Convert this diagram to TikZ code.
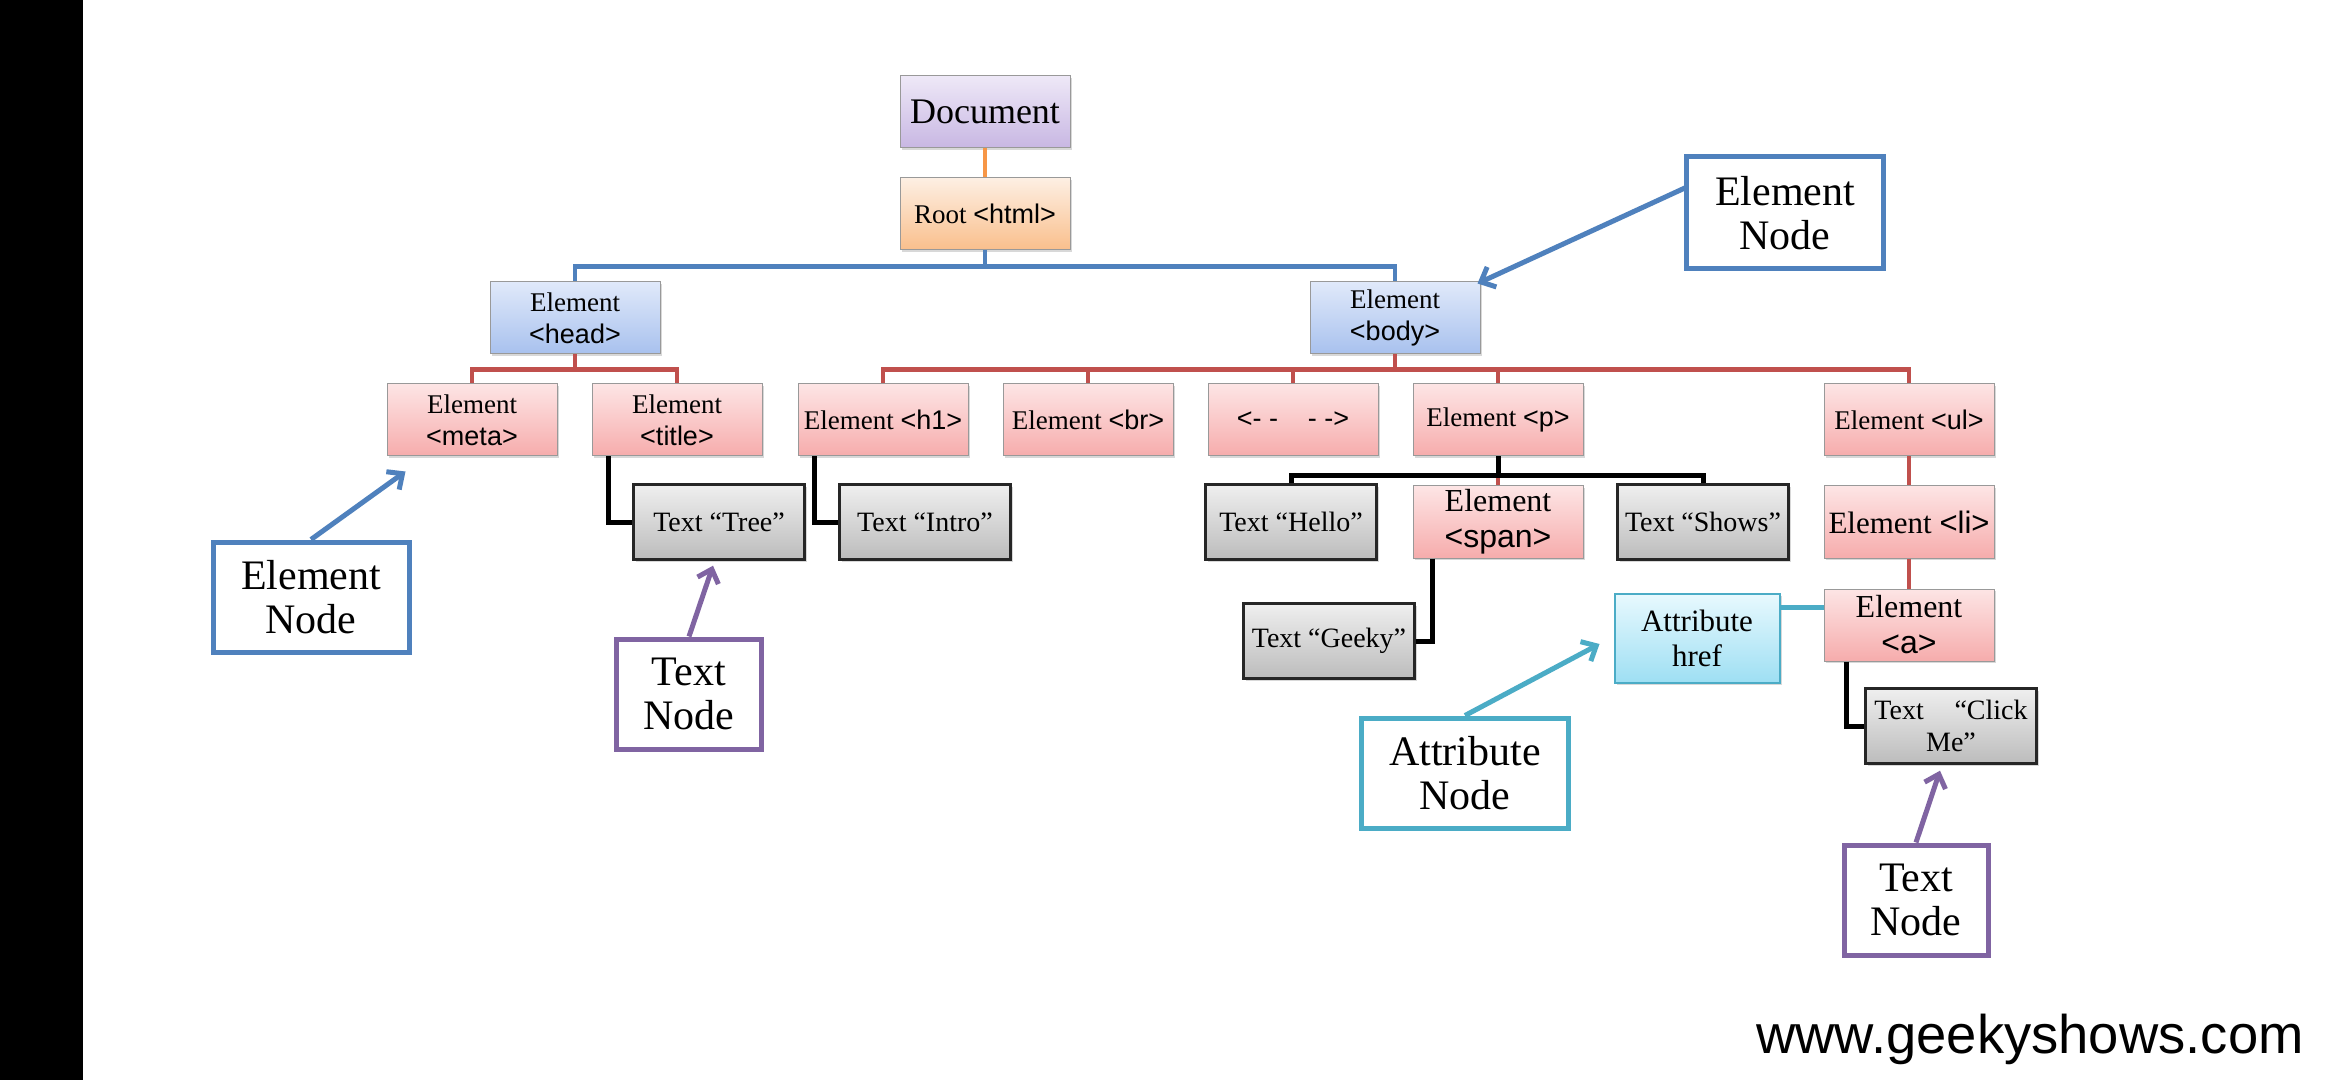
\documentclass[tikz,border=0pt]{standalone}
\usepackage{fontspec}
\setmainfont{Liberation Serif}
\newfontfamily\tagfont{Liberation Sans}
\usetikzlibrary{arrows.meta,shadows,calc}
\newcommand{\tagtxt}[1]{{\tagfont #1}}
\definecolor{docTop}{HTML}{EEE8F7}
\definecolor{docBot}{HTML}{C8B7E3}
\definecolor{rootTop}{HTML}{FDEFE3}
\definecolor{rootBot}{HTML}{F9BF8C}
\definecolor{bluTop}{HTML}{E0E9FA}
\definecolor{bluBot}{HTML}{A8C1EE}
\definecolor{redTop}{HTML}{FDE5E5}
\definecolor{redBot}{HTML}{F6ACAC}
\definecolor{gryTop}{HTML}{EFEFEF}
\definecolor{gryBot}{HTML}{BCBCBC}
\definecolor{cyTop}{HTML}{E8F9FE}
\definecolor{cyBot}{HTML}{9EDFF3}
\definecolor{lnOrange}{HTML}{F79646}
\definecolor{lnBlue}{HTML}{4F81BD}
\definecolor{lnRed}{HTML}{C0504D}
\definecolor{lnCyan}{HTML}{4BACC6}
\definecolor{lnPurple}{HTML}{8064A2}
\begin{document}
\begin{tikzpicture}[x=0.5pt,y=-0.5pt,
  nbox/.style={draw=black!40, line width=0.5pt, minimum width=85pt, minimum height=36pt,
    align=center, inner sep=1pt, font=\fontsize{13.5}{16}\selectfont,
    drop shadow={shadow xshift=1.2pt, shadow yshift=-1.2pt, opacity=0.3}},
  docbox/.style={nbox, top color=docTop, bottom color=docBot, font=\fontsize{18}{20}\selectfont},
  rootbox/.style={nbox, top color=rootTop, bottom color=rootBot},
  blubox/.style={nbox, top color=bluTop, bottom color=bluBot},
  redbox/.style={nbox, top color=redTop, bottom color=redBot},
  txtbox/.style={nbox, draw=black!85, line width=1.2pt, minimum width=85.5pt, minimum height=37.5pt,
    top color=gryTop, bottom color=gryBot, font=\fontsize{14}{16}\selectfont},
  attrbox/.style={nbox, draw=lnCyan, line width=1pt, minimum width=82.5pt, minimum height=44.5pt,
    top color=cyTop, bottom color=cyBot, font=\fontsize{15.5}{17.5}\selectfont},
  callout/.style={draw, line width=2.5pt, fill=white, minimum height=55pt, align=center,
    inner sep=1pt, font=\fontsize{21}{22}\selectfont},
  conn/.style={line width=2.2pt},
  arr/.style={line width=2.5pt, -{Straight Barb[length=6pt,width=11pt]}},
]
\useasboundingbox (0,0) rectangle (2340,1080);
\fill[white] (0,0) rectangle (2340,1080);
\fill[black] (0,0) rectangle (83,1080);

% tree nodes
\node[docbox]  (doc)   at (985,112) {Document};
\node[rootbox] (root)  at (985,214) {Root \tagtxt{<html>}};
\node[blubox]  (head)  at (575,318) {Element\\\tagtxt{<head>}};
\node[blubox]  (body)  at (1395,318) {Element\\\tagtxt{<body>}};
\node[redbox]  (meta)  at (472,420) {Element\\\tagtxt{<meta>}};
\node[redbox]  (title) at (677,420) {Element\\\tagtxt{<title>}};
\node[redbox]  (h1)    at (883,420) {Element \tagtxt{<h1>}};
\node[redbox]  (br)    at (1088,420) {Element \tagtxt{<br>}};
\node[redbox]  (cmt)   at (1293,420) {\tagtxt{<- -\hspace{1.1em}- ->}};
\node[redbox]  (p)     at (1498,420) {Element \tagtxt{<p>}};
\node[redbox]  (ul)    at (1909,420) {Element \tagtxt{<ul>}};
\node[txtbox]  (tree)  at (719,522) {Text “Tree”};
\node[txtbox]  (intro) at (925,522) {Text “Intro”};
\node[txtbox]  (hello) at (1291,522) {Text “Hello”};
\node[redbox, font=\fontsize{16}{18}\selectfont] (span) at (1498,522) {Element\\\tagtxt{<span>}};
\node[txtbox]  (shows) at (1703,522) {Text “Shows”};
\node[redbox, font=\fontsize{15.5}{18}\selectfont] (li) at (1909,522) {Element \tagtxt{<li>}};
\node[redbox, font=\fontsize{16}{18}\selectfont] (a) at (1909,625) {Element\\\tagtxt{<a>}};
\node[attrbox] (href)  at (1697,638) {Attribute\\href};
\node[txtbox]  (geeky) at (1329,641) {Text “Geeky”};
\node[txtbox]  (click) at (1951,726) {Text\hspace{1.1em}“Click\\Me”};

% connectors
\draw[conn, lnOrange] (doc) -- (root);
\draw[conn, lnBlue] (root.south) -- ++(0,16) -| (head.north);
\draw[conn, lnBlue] (root.south) -- ++(0,16) -| (body.north);
\draw[conn, lnRed] (head.south) -- ++(0,15) -| (meta.north);
\draw[conn, lnRed] (head.south) -- ++(0,15) -| (title.north);
\foreach \c in {h1,br,cmt,p,ul}
  \draw[conn, lnRed] (body.south) -- ++(0,15) -| (\c.north);
\draw[conn, lnRed] (p) -- (span);
\draw[conn, lnRed] (ul) -- (li);
\draw[conn, lnRed] (li) -- (a);
\draw[conn, line width=2.5pt, black] (p.south) -- ++(0,19) -| (hello.north);
\draw[conn, line width=2.5pt, black] (p.south) -- ++(0,19) -| (shows.north);
\draw[conn, line width=2.5pt, black] ($(title.south west)+(17,0)$) |- (tree.west);
\draw[conn, line width=2.5pt, black] ($(h1.south west)+(17,0)$) |- (intro.west);
\draw[conn, line width=2.5pt, black] ($(span.south west)+(20,0)$) |- (geeky.east);
\draw[conn, line width=2.5pt, black] ($(a.south west)+(23,0)$) |- (click.west);
\coordinate (hx) at ($(href.north east)+(0,15)$);
\draw[conn, lnCyan] (hx) -- (hx -| a.west);

% callouts
\node[callout, draw=lnBlue, minimum width=98.5pt, minimum height=56pt] (enr) at (1785,213) {Element\\Node};
\node[callout, draw=lnBlue, minimum width=98pt] (enl) at (311,597) {Element\\Node};
\node[callout, draw=lnPurple, minimum width=72.5pt] (tnl) at (689,694) {Text\\Node};
\node[callout, draw=lnCyan, minimum width=103.5pt] (an) at (1465,773) {Attribute\\Node};
\node[callout, draw=lnPurple, minimum width=72pt] (tnr) at (1916,900) {Text\\Node};

\draw[arr, lnBlue] ($(enr.west)+(3,-26)$) -- ($(body.north east)+(-3,2)$);
\draw[arr, lnBlue] (enl.north) -- ($(meta.south west)+(19,15)$);
\draw[arr, lnPurple] (tnl.north) -- ($(tree.south)+(-6,5)$);
\draw[arr, lnCyan] (an.north) -- ($(href.west)+(-14,6)$);
\draw[arr, lnPurple] (tnr.north) -- ($(click.south)+(-11,6)$);

\node[font=\tagfont\fontsize{27.2}{30}\selectfont, anchor=base west, inner sep=0pt] (wm) at (1756,1053) {www.geekyshows.com};
\end{tikzpicture}
\end{document}
